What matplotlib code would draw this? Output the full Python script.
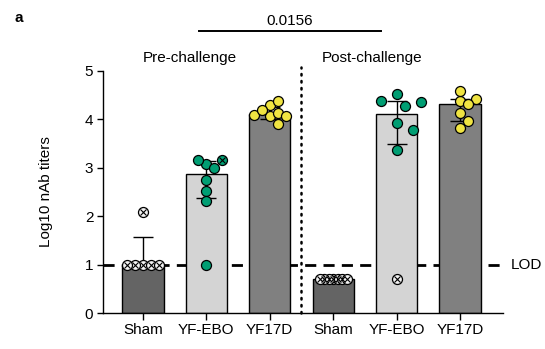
import numpy as np
import matplotlib
matplotlib.use("Agg")
import matplotlib.pyplot as plt

plt.rcParams["font.family"] = ["Liberation Sans", "DejaVu Sans"]
plt.rcParams["font.size"] = 11

# ---- data -------------------------------------------------------------
categories = ["Sham", "YF-EBO", "YF17D", "Sham", "YF-EBO", "YF17D"]
phases = ["Pre-challenge", "Post-challenge"]

pre_sham = [1.0, 1.0, 1.0, 1.0, 1.0, 2.08]
pre_ebo = [3.08, 2.99, 3.16, 3.16, 2.75, 2.52, 2.31, 1.0]
pre_17d = [4.07, 4.13, 4.30, 4.37, 4.07, 4.09, 4.19, 3.90]
post_sham = [0.70, 0.70, 0.70, 0.70, 0.70, 0.70, 0.70]
post_ebo = [4.52, 4.28, 4.37, 4.35, 3.92, 3.77, 3.37, 0.70]
post_17d = [4.37, 4.41, 4.59, 4.31, 4.14, 3.97, 3.83]

# animals drawn with a crossed circle
pre_sham_x = [True] * 6
pre_ebo_x = [False, False, False, True, False, False, False, False]
pre_17d_x = [False] * 8
post_sham_x = [True] * 7
post_ebo_x = [False] * 7 + [True]
post_17d_x = [False] * 7

# interquartile range shown as error bars (lower, upper)
q_low = [1.0, 2.38, 4.00, 0.70, 3.50, 3.97]
q_high = [1.57, 3.13, 4.26, 0.70, 4.37, 4.41]

lod = 1.0
p_value = "0.0156"

groups = [pre_sham, pre_ebo, pre_17d, post_sham, post_ebo, post_17d]
crossed = [pre_sham_x, pre_ebo_x, pre_17d_x, post_sham_x, post_ebo_x, post_17d_x]

# ---- styles -----------------------------------------------------------
bar_colors = ["#646464", "#d4d4d4", "#808080", "#646464", "#d4d4d4", "#808080"]
dot_colors = ["#f2f2f2", "#009E73", "#F0E442", "#f2f2f2", "#009E73", "#F0E442"]
# beeswarm step and minimum spacing (pixels) for each group
swarm_step = [8, 8, 8, 4.5, 8, 8]
swarm_gap = [8, 8.5, 8.5, 4.5, 14, 8.5]

fig = plt.figure(figsize=(5.45, 3.49), dpi=100)
ax = fig.add_axes([0.189, 0.103, 0.734, 0.694])

x = np.arange(len(categories))
ax.set_xlim(-0.63, 5.68)
ax.set_ylim(0, 5)

medians = [np.median(g) for g in groups]
ax.bar(x, medians, width=0.65, color=bar_colors, edgecolor="black",
       linewidth=1.0, zorder=2)

lo = np.array(medians) - np.array(q_low)
hi = np.array(q_high) - np.array(medians)
ax.errorbar(x, medians, yerr=[lo, hi], fmt="none", ecolor="black",
            elinewidth=1.0, capsize=7.5, capthick=1.0, zorder=3)

# LOD line and phase separator
ax.axhline(lod, color="black", lw=2.0, dashes=(4, 2.6), zorder=1)
ax.plot([2.5, 2.5], [0, 5.08], color="black", lw=1.8, ls=(0, (0.6, 2.2)),
        dash_capstyle="round", clip_on=False, zorder=1)


def swarm(values, step, gap, px_x, px_y):
    """Place points left/right of the centre so they do not overlap."""
    placed = []
    offsets = []
    for v in values:
        k = 0
        while True:
            found = False
            for cand in ([0] if k == 0 else [k, -k]):
                ox = cand * step
                if all(np.hypot(ox - px, (v - pv) * px_y) >= gap - 1e-9
                       for px, pv in placed):
                    placed.append((ox, v))
                    offsets.append(ox / px_x)
                    found = True
                    break
            if found:
                break
            k += 1
    return offsets


fig.canvas.draw()
p0 = ax.transData.transform((0, 0))
p1 = ax.transData.transform((1, 1))
px_x, px_y = p1[0] - p0[0], p1[1] - p0[1]

for i, (vals, xs) in enumerate(zip(groups, crossed)):
    offs = swarm(vals, swarm_step[i], swarm_gap[i], px_x, px_y)
    for v, o, c in zip(vals, offs, xs):
        face = dot_colors[i]
        if c and v < lod:
            face = "#f2f2f2"
        ax.plot(x[i] + o, v, "o", ms=7.2, mfc=face, mec="black", mew=0.9,
                zorder=4, clip_on=False)
        if c:
            ax.plot(x[i] + o, v, "x", ms=4.6, mec="black", mew=0.8,
                    zorder=5, clip_on=False)

# axes styling
for s in ("top", "right"):
    ax.spines[s].set_visible(False)
ax.spines["left"].set_linewidth(1.0)
ax.spines["bottom"].set_linewidth(1.0)
ax.set_yticks(range(6))
ax.set_xticks(x)
ax.set_xticklabels(categories)
ax.tick_params(axis="y", length=4, width=1.0, pad=3)
ax.tick_params(axis="x", length=5, width=1.0, pad=2)
ax.set_ylabel("Log10 nAb titers")
ax.yaxis.set_label_coords(-0.125, 0.5)

ax.text(5.80, lod, "LOD", va="center", ha="left", clip_on=False)
ax.text(0.74, 5.27, phases[0], ha="center", va="center")
ax.text(3.61, 5.27, phases[1], ha="center", va="center")

ax.plot([0.88, 3.75], [5.83, 5.83], color="black", lw=1.4, clip_on=False)
ax.text(2.32, 6.03, p_value, ha="center", va="center")

fig.text(0.026, 0.948, "a", fontweight="bold", fontsize=11, va="center")

fig.savefig("out.png", dpi=100)
